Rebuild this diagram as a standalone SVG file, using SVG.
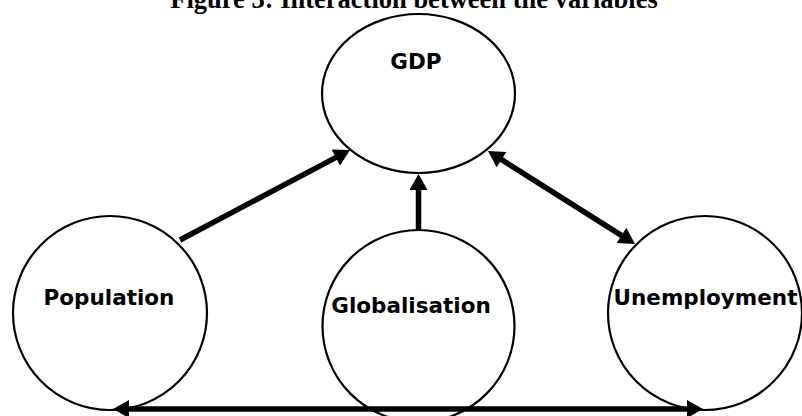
<svg xmlns="http://www.w3.org/2000/svg" width="802" height="416" viewBox="0 0 802 416">
<style>
.node{fill:#fff;stroke:#000;stroke-width:2.2}
.lbl{font-family:"DejaVu Sans",Verdana,sans-serif;font-weight:bold;font-size:21.5px;fill:#000;text-anchor:middle}
.title{font-family:"Liberation Serif","Times New Roman",serif;font-weight:bold;font-size:26.5px;fill:#000;text-anchor:middle}
.conn{stroke:#000;stroke-width:5.5;fill:none}
</style>
<defs>
<marker id="ah" markerUnits="userSpaceOnUse" markerWidth="18" markerHeight="18" viewBox="0 0 16 18" refX="4" refY="9" orient="auto-start-reverse">
<path d="M0,0 L16,9 L0,18 z" fill="#000"/>
</marker>
</defs>
<rect width="802" height="416" fill="#fff"/>
<text class="title" x="414" y="7.5">Figure 3: Interaction between the variables</text>
<g id="gdp"><ellipse class="node" cx="418.5" cy="93.5" rx="96.5" ry="79.5"/><text class="lbl" x="416" y="69">GDP</text></g>
<g id="population"><circle class="node" cx="110" cy="313" r="97"/><text class="lbl" x="109" y="305">Population</text></g>
<g id="globalisation"><circle class="node" cx="418.5" cy="326" r="96"/><text class="lbl" x="411" y="313">Globalisation</text></g>
<g id="unemployment"><circle class="node" cx="705" cy="313" r="97"/><text class="lbl" x="705.5" y="305">Unemployment</text></g>
<g id="connectors">
<line class="conn" x1="180" y1="240" x2="339.4" y2="155.6" marker-end="url(#ah)"/>
<line class="conn" x1="418.5" y1="230" x2="418.5" y2="186" marker-end="url(#ah)"/>
<line class="conn" x1="498.1" y1="157.4" x2="624.9" y2="237.6" marker-start="url(#ah)" marker-end="url(#ah)"/>
<line class="conn" x1="125" y1="409" x2="691" y2="409" marker-start="url(#ah)" marker-end="url(#ah)"/>
</g>
</svg>
